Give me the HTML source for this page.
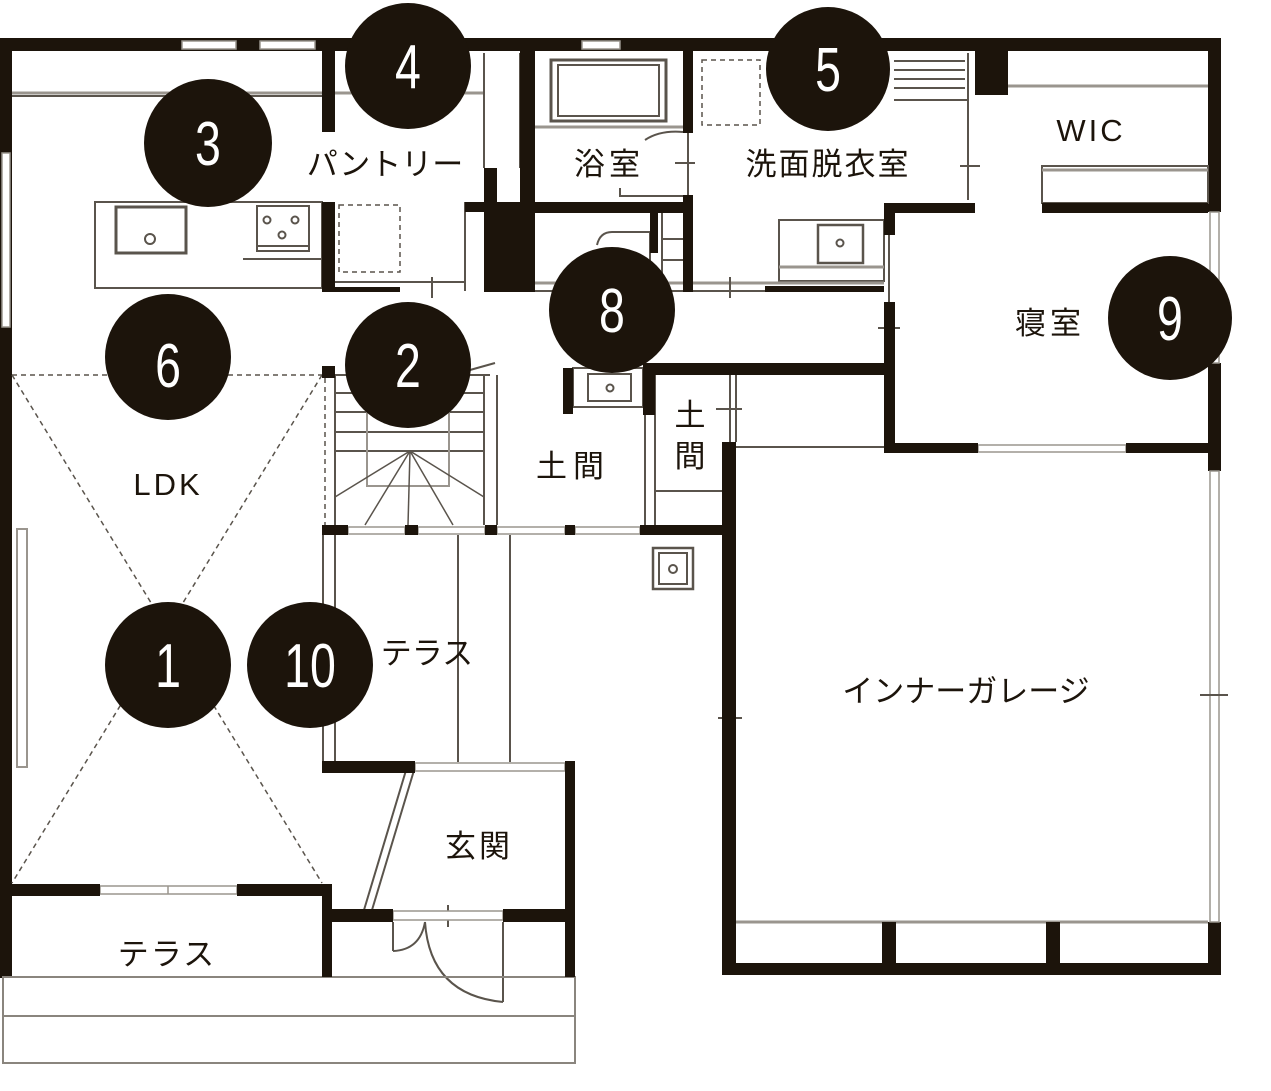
<!DOCTYPE html>
<html><head><meta charset="utf-8"><style>
html,body{margin:0;padding:0;background:#fff;}
svg{display:block}
text{font-family:"Liberation Sans","Noto Sans CJK JP",sans-serif;fill:#1c140b;}
.n{fill:#fff;font-size:62px;}
</style></head><body>
<svg width="1271" height="1091" viewBox="0 0 1271 1091" xmlns="http://www.w3.org/2000/svg">
<g fill="#1c140b">
<rect x="0" y="38" width="1221" height="13"/>
<rect x="0" y="38" width="12" height="940"/>
<rect x="1208" y="38" width="13" height="174"/>
<rect x="1208" y="363" width="13" height="108"/>
<rect x="1208" y="922" width="13" height="53"/>
</g>
<g fill="#fff" stroke="#9a958e" stroke-width="1.5">
<rect x="182" y="41" width="54" height="8"/>
<rect x="260" y="41" width="55" height="8"/>
<rect x="582" y="41" width="38" height="8"/>
<rect x="2" y="153" width="8" height="174"/>
<rect x="1210" y="212" width="9" height="151"/>
<rect x="1210" y="471" width="9" height="451"/>
</g>
<g fill="none" stroke="#5a544c" stroke-width="2">
<line x1="12" y1="93" x2="484" y2="93" stroke="#9a958e" stroke-width="3"/>
<line x1="12" y1="96" x2="322" y2="96"/>
<rect x="95" y="202" width="227" height="86"/>
<rect x="116" y="207" width="70" height="46" stroke-width="3"/>
<circle cx="150" cy="239" r="5"/>
<rect x="257" y="206" width="52" height="45"/>
<circle cx="267" cy="220" r="3.5"/><circle cx="295" cy="220" r="3.5"/><circle cx="282" cy="235" r="3.5"/>
<line x1="257" y1="246" x2="309" y2="246"/>
<line x1="243" y1="259" x2="322" y2="259"/>
<rect x="339" y="205" width="61" height="67" stroke-dasharray="5 4" stroke-width="1.5"/>
<line x1="335" y1="282" x2="465" y2="282"/>
<line x1="432" y1="277" x2="432" y2="298"/>
<line x1="465" y1="202" x2="465" y2="291"/>
<line x1="484" y1="53" x2="484" y2="168"/>
<line x1="520" y1="53" x2="520" y2="168"/>
<rect x="551" y="60" width="115" height="61" stroke-width="3"/>
<rect x="558" y="65" width="101" height="51"/>
<line x1="535" y1="127" x2="683" y2="127" stroke="#9a958e" stroke-width="3"/>
<path d="M645 140 Q660 130 683 132"/>
<path d="M620 188 L620 196 L683 196"/>
<line x1="675" y1="163" x2="695" y2="163"/>
<line x1="688" y1="133" x2="688" y2="195"/>
<rect x="702" y="60" width="58" height="65" stroke-dasharray="5 4" stroke-width="1.5"/>
<line x1="894" y1="61" x2="965" y2="61"/><line x1="894" y1="70" x2="965" y2="70"/>
<line x1="894" y1="79" x2="965" y2="79"/><line x1="894" y1="88" x2="965" y2="88"/>
<line x1="894" y1="100" x2="968" y2="100"/>
<line x1="968" y1="53" x2="968" y2="200"/>
<line x1="960" y1="166" x2="980" y2="166"/>
<rect x="779" y="220" width="105" height="61"/>
<rect x="818" y="225" width="45" height="38" stroke-width="2.5"/>
<circle cx="840" cy="243" r="3.5"/>
<line x1="779" y1="267" x2="884" y2="267" stroke="#9a958e" stroke-width="3"/>
<line x1="533" y1="283" x2="884" y2="283" stroke="#9a958e" stroke-width="3"/>
<line x1="533" y1="291" x2="765" y2="291"/>
<line x1="730" y1="277" x2="730" y2="298"/>
<path d="M597 245 Q600 232 612 232 L650 232 L650 280"/>
<line x1="662" y1="213" x2="662" y2="283"/>
<line x1="662" y1="239" x2="683" y2="239"/><line x1="662" y1="260" x2="683" y2="260"/>
<line x1="1008" y1="86" x2="1208" y2="86" stroke="#9a958e" stroke-width="3"/>
<rect x="1042" y="166" width="166" height="37"/>
<line x1="1042" y1="170" x2="1208" y2="170" stroke="#9a958e" stroke-width="3"/>
<line x1="889" y1="235" x2="889" y2="302"/>
<line x1="878" y1="328" x2="900" y2="328"/>
<g stroke-dasharray="5 4" stroke-width="1.5">
<line x1="12" y1="375" x2="322" y2="375"/>
<line x1="12" y1="375" x2="322" y2="883"/>
<line x1="322" y1="375" x2="12" y2="883"/>
<line x1="325" y1="378" x2="325" y2="525"/>
</g>
<rect x="17" y="529" width="10" height="238" stroke="#9a958e"/>
<line x1="335" y1="375" x2="490" y2="375"/>
<line x1="484" y1="375" x2="484" y2="525"/>
<line x1="497" y1="375" x2="497" y2="525"/>
<line x1="470" y1="370" x2="495" y2="363"/>
<line x1="335" y1="393" x2="484" y2="393"/>
<line x1="335" y1="412" x2="484" y2="412"/>
<line x1="335" y1="432" x2="484" y2="432"/>
<line x1="335" y1="451" x2="484" y2="451"/>
<line x1="335" y1="375" x2="335" y2="525"/>
<rect x="367" y="393" width="82" height="93" stroke="#9a958e"/>
<g stroke-width="1.5">
<line x1="410" y1="451" x2="335" y2="497"/><line x1="410" y1="451" x2="365" y2="525"/>
<line x1="410" y1="451" x2="408" y2="525"/><line x1="410" y1="451" x2="453" y2="525"/>
<line x1="410" y1="451" x2="484" y2="497"/>
</g>
<rect x="573" y="368" width="70" height="39"/>
<rect x="588" y="374" width="43" height="27"/>
<circle cx="610" cy="388" r="3.5"/>
<line x1="645" y1="415" x2="645" y2="525"/><line x1="655" y1="375" x2="655" y2="525"/>
<line x1="654" y1="491" x2="722" y2="491"/>
<line x1="730" y1="375" x2="730" y2="442"/><line x1="736" y1="375" x2="736" y2="442"/>
<line x1="716" y1="409" x2="742" y2="409"/>
<line x1="736" y1="447" x2="884" y2="447"/>
<line x1="323" y1="535" x2="323" y2="762"/>
<line x1="335" y1="535" x2="335" y2="762"/>
<line x1="458" y1="535" x2="458" y2="762"/>
<line x1="510" y1="535" x2="510" y2="762"/>
<rect x="653" y="548" width="40" height="41" stroke-width="2.5"/>
<rect x="659" y="553" width="28" height="31"/>
<circle cx="673" cy="569" r="4"/>
<line x1="728" y1="535" x2="728" y2="884"/><line x1="734" y1="535" x2="734" y2="884"/>
<line x1="718" y1="718" x2="742" y2="718"/>
<line x1="1200" y1="695" x2="1228" y2="695"/>
<line x1="736" y1="922" x2="1208" y2="922" stroke="#9a958e" stroke-width="3"/>
<line x1="415" y1="767" x2="372" y2="910"/><line x1="407" y1="767" x2="364" y2="910"/>
<line x1="393" y1="922" x2="393" y2="951"/>
<path d="M393 951 Q420 950 425 922"/>
<line x1="503" y1="922" x2="503" y2="1002"/>
<path d="M425 922 Q430 995 503 1002"/>
<line x1="448" y1="905" x2="448" y2="927"/>
<rect x="3" y="977" width="572" height="86" stroke="#8a857e"/>
<line x1="3" y1="1016" x2="575" y2="1016" stroke="#8a857e"/>
</g>
<g fill="#fff" stroke="#9a958e" stroke-width="1.5">
<rect x="100" y="886" width="137" height="8"/>
<line x1="168" y1="886" x2="168" y2="894"/>
<rect x="415" y="763" width="150" height="8"/>
<rect x="393" y="911" width="110" height="9"/>
<rect x="978" y="445" width="148" height="7"/>
<rect x="348" y="527" width="57" height="7"/><rect x="418" y="527" width="67" height="7"/>
<rect x="497" y="527" width="68" height="7"/><rect x="575" y="527" width="65" height="7"/>
<rect x="736" y="964" width="146" height="8"/><rect x="896" y="964" width="150" height="8"/><rect x="1060" y="964" width="145" height="8"/>
</g>
<g fill="#1c140b">
<rect x="322" y="51" width="13" height="81"/>
<rect x="322" y="202" width="13" height="90"/>
<rect x="322" y="287" width="78" height="5"/>
<rect x="465" y="202" width="32" height="10"/>
<rect x="484" y="168" width="13" height="124"/>
<rect x="497" y="202" width="36" height="90"/>
<rect x="520" y="51" width="15" height="241"/>
<rect x="533" y="202" width="160" height="11"/>
<rect x="683" y="51" width="10" height="82"/>
<rect x="683" y="195" width="10" height="97"/>
<rect x="650" y="213" width="8" height="40"/>
<rect x="765" y="286" width="119" height="6"/>
<rect x="975" y="51" width="33" height="44"/>
<rect x="884" y="203" width="91" height="10"/>
<rect x="1042" y="203" width="166" height="10"/>
<rect x="884" y="203" width="11" height="32"/>
<rect x="884" y="302" width="11" height="151"/>
<rect x="884" y="443" width="94" height="10"/>
<rect x="1126" y="443" width="82" height="10"/>
<rect x="643" y="363" width="241" height="12"/>
<rect x="563" y="368" width="10" height="46"/>
<rect x="643" y="363" width="12" height="52"/>
<rect x="722" y="442" width="14" height="533"/>
<rect x="322" y="366" width="13" height="12"/>
<rect x="322" y="525" width="26" height="10"/>
<rect x="405" y="525" width="13" height="10"/>
<rect x="485" y="525" width="12" height="10"/>
<rect x="565" y="525" width="10" height="10"/>
<rect x="640" y="525" width="96" height="10"/>
<rect x="322" y="761" width="93" height="12"/>
<rect x="565" y="761" width="10" height="216"/>
<rect x="12" y="884" width="88" height="12"/>
<rect x="237" y="884" width="95" height="12"/>
<rect x="322" y="884" width="10" height="93"/>
<rect x="332" y="909" width="61" height="13"/>
<rect x="503" y="909" width="72" height="13"/>
<rect x="722" y="963" width="499" height="12"/>
<rect x="882" y="922" width="14" height="53"/>
<rect x="1046" y="922" width="14" height="53"/>
<rect x="722" y="922" width="14" height="53"/>
</g>
<g fill="#1c140b">
<circle cx="408" cy="66" r="63"/>
<circle cx="208" cy="143" r="64"/>
<circle cx="828" cy="69" r="62"/>
<circle cx="168" cy="357" r="63"/>
<circle cx="408" cy="365" r="63"/>
<circle cx="612" cy="310" r="63"/>
<circle cx="1170" cy="318" r="62"/>
<circle cx="168" cy="665" r="63"/>
<circle cx="310" cy="665" r="63"/>
</g>
<g text-anchor="middle">
<text x="408" y="88" class="n" transform="translate(408 0) scale(0.75 1) translate(-408 0)">4</text>
<text x="208" y="165" class="n" transform="translate(208 0) scale(0.75 1) translate(-208 0)">3</text>
<text x="828" y="91" class="n" transform="translate(828 0) scale(0.75 1) translate(-828 0)">5</text>
<text x="168" y="387" class="n" transform="translate(168 0) scale(0.75 1) translate(-168 0)">6</text>
<text x="408" y="387" class="n" transform="translate(408 0) scale(0.75 1) translate(-408 0)">2</text>
<text x="612" y="332" class="n" transform="translate(612 0) scale(0.75 1) translate(-612 0)">8</text>
<text x="1170" y="340" class="n" transform="translate(1170 0) scale(0.75 1) translate(-1170 0)">9</text>
<text x="168" y="687" class="n" transform="translate(168 0) scale(0.75 1) translate(-168 0)">1</text>
<text x="310" y="687" class="n" transform="translate(310 0) scale(0.75 1) translate(-310 0)">10</text>
</g>
<g font-size="31" text-anchor="middle">
<text x="385" y="175">パントリー</text>
<text x="609" y="175" letter-spacing="4">浴室</text>
<text x="828" y="175" letter-spacing="2">洗面脱衣室</text>
<text x="1091" y="141" letter-spacing="3">WIC</text>
<text x="1050" y="334" letter-spacing="4">寝室</text>
<text x="573" y="477" letter-spacing="6">土間</text>
<text x="690" y="426">土</text>
<text x="690" y="467">間</text>
<text x="168" y="495" letter-spacing="3">LDK</text>
<text x="427" y="664">テラス</text>
<text x="966" y="702">インナーガレージ</text>
<text x="479" y="857" letter-spacing="3">玄関</text>
<text x="167" y="965" letter-spacing="2">テラス</text>
</g>
</svg>
</body></html>
